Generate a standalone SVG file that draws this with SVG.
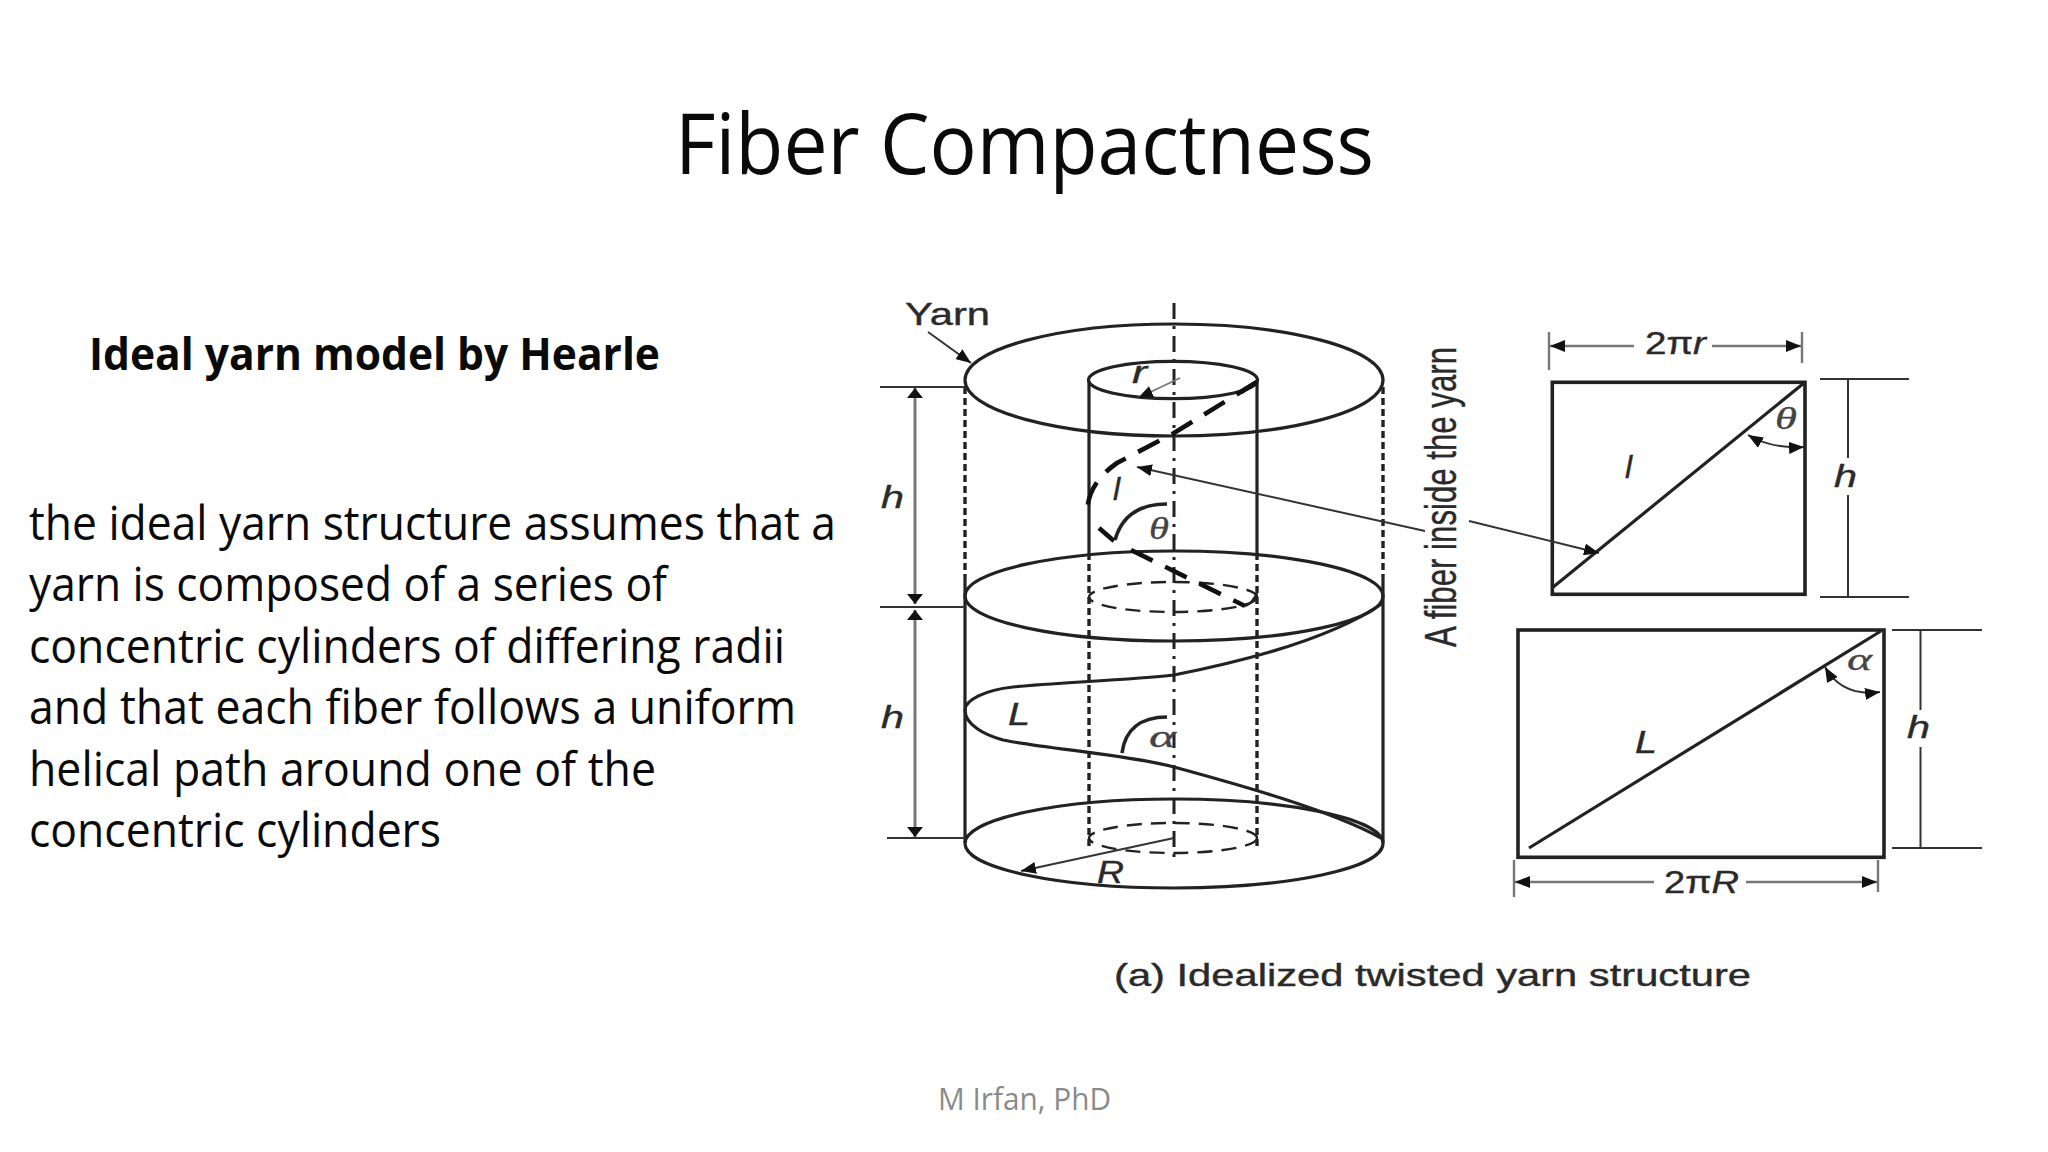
<svg xmlns="http://www.w3.org/2000/svg" width="2048" height="1152" viewBox="0 0 2048 1152">
<style>
.slide{font-family:"Open Sans",Lato,sans-serif;fill:#0a0a0a}
.lab{font-family:"Liberation Sans",Arial,sans-serif;fill:#2a2a2a;font-size:32px;stroke:#2a2a2a;stroke-width:.4}
.it{font-style:italic}
.gr{font-family:"Liberation Serif",serif;font-style:italic;fill:#444;font-size:32px;stroke:#444;stroke-width:.3}
.s{fill:none;stroke:#222;stroke-width:3.2}
.t{fill:none;stroke:#333;stroke-width:2}
.g{fill:none;stroke:#777;stroke-width:2.4}
.d{fill:none;stroke:#222;stroke-width:3.4;stroke-dasharray:7 4}
.de{fill:none;stroke:#222;stroke-width:2.4;stroke-dasharray:15 9}
.ax{fill:none;stroke:#222;stroke-width:3;stroke-dasharray:16 7 3 7}
.fb{fill:none;stroke:#111;stroke-width:4.6;stroke-dasharray:24 14}
</style>
<defs>
<marker id="a" markerUnits="userSpaceOnUse" markerWidth="16" markerHeight="12" refX="15" refY="6" orient="auto-start-reverse"><path d="M0 0L15 6L0 12z" fill="#111"/></marker>
<marker id="b" markerUnits="userSpaceOnUse" markerWidth="11" markerHeight="16" refX="10" refY="8" orient="auto-start-reverse"><path d="M0 0L10 8L0 16z" fill="#111"/></marker>
</defs>
<rect width="2048" height="1152" fill="#fff"/>
<g id="slide-text">
<text class="slide" x="675" y="174" font-size="84" textLength="699" lengthAdjust="spacingAndGlyphs">Fiber Compactness</text>
<text class="slide" x="89" y="370" font-size="45" font-weight="700" textLength="571" lengthAdjust="spacingAndGlyphs">Ideal yarn model by Hearle</text>
<text class="slide" x="29" y="540" font-size="47" textLength="807" lengthAdjust="spacingAndGlyphs">the ideal yarn structure assumes that a</text>
<text class="slide" x="29" y="601" font-size="47" textLength="638" lengthAdjust="spacingAndGlyphs">yarn is composed of a series of</text>
<text class="slide" x="29" y="663" font-size="47" textLength="756" lengthAdjust="spacingAndGlyphs">concentric cylinders of differing radii</text>
<text class="slide" x="29" y="724" font-size="47" textLength="767" lengthAdjust="spacingAndGlyphs">and that each fiber follows a uniform</text>
<text class="slide" x="29" y="786" font-size="47" textLength="627" lengthAdjust="spacingAndGlyphs">helical path around one of the</text>
<text class="slide" x="29" y="847" font-size="47" textLength="412" lengthAdjust="spacingAndGlyphs">concentric cylinders</text>
<text class="slide" x="938" y="1110" font-size="31" style="fill:#8a8a8a" textLength="173" lengthAdjust="spacingAndGlyphs">M Irfan, PhD</text>
</g>
<g id="cylinder">
<ellipse class="s" cx="1174" cy="380" rx="209" ry="56"/>
<ellipse class="s" cx="1173" cy="380" rx="84.5" ry="18.7"/>
<ellipse class="s" cx="1174" cy="596" rx="209" ry="45"/>
<ellipse class="s" cx="1174" cy="843.5" rx="209" ry="44.5"/>
<ellipse class="de" cx="1173" cy="597" rx="84" ry="15"/>
<ellipse class="de" cx="1173" cy="838" rx="84" ry="15"/>
<path class="s" d="M1089 381V553M1257 381V553M965 577V843M1383 577V843"/>
<path class="d" d="M965 387V577M1383 387V577M1089 553V848M1257 553V848"/>
<path class="ax" d="M1174 303V858"/>
<path class="s" d="M1383 603C1330 640 1240 662 1174 675C1130 680 1050 683 1013 687C985 690 965 700 965 710C965 725 985 735 1003 740C1040 748 1130 755 1174 767C1240 785 1330 810 1381 838"/>
<path class="fb" d="M1257 382L1174 433L1117 463C1100 475 1088 490 1087 512"/>
<path class="fb" style="stroke-dasharray:none" d="M1099 528L1114 541M1257 382L1241 392"/>
<path class="fb" d="M1131 550L1245 606"/>
<path class="s" style="stroke-width:2.4" d="M1245 606Q1252 604 1257 593"/>
<path class="s" style="stroke-width:3.6" d="M1167 504C1140 504 1122 515 1115 540"/>
<path class="s" style="stroke-width:3.6" d="M1167 717C1140 717 1125 730 1122 753"/>
</g>
<g id="square">
<rect class="s" style="stroke-width:3.6" x="1552.3" y="382.3" width="252.7" height="212"/>
<path class="s" d="M1552 588L1804 383"/>
</g>
<g id="rectangle">
<rect class="s" style="stroke-width:3.6" x="1518" y="630" width="366" height="227.3"/>
<path class="s" d="M1529 848L1881 631"/>
</g>
<g id="connectors">
<path class="t" marker-end="url(#a)" d="M928 332L971 363"/>
<path class="g" style="stroke-width:1.8" marker-end="url(#a)" d="M1180 378L1138 398"/>
<path class="t" marker-end="url(#a)" d="M1425 531L1137 467"/>
<path class="t" marker-end="url(#a)" d="M1469 521L1599 553"/>
<path class="t" marker-end="url(#a)" d="M1174 838L1021 871"/>
<path class="t" d="M880 387H965M880 607H965M887 838H965"/>
<path class="g" style="stroke-width:3" marker-start="url(#b)" marker-end="url(#b)" d="M915 388V604"/>
<path class="g" style="stroke-width:3" marker-start="url(#b)" marker-end="url(#b)" d="M915 610V837"/>
<path class="g" d="M1549 332V370M1802 332V363M1514 860V897M1878 860V892"/>
<path class="g" marker-start="url(#a)" d="M1550 346H1634"/>
<path class="g" marker-end="url(#a)" d="M1712 346H1801"/>
<path class="g" marker-start="url(#a)" d="M1515 882H1654"/>
<path class="g" marker-end="url(#a)" d="M1746 882H1877"/>
<path class="t" d="M1820 379H1909M1820 597H1909M1848 379V458M1848 495V597M1892 630H1982M1892 848H1982M1920.5 630V710M1920.5 747V848"/>
<path class="t" marker-start="url(#a)" marker-end="url(#a)" d="M1748 435Q1772 449 1804 447"/>
<path class="t" marker-start="url(#a)" marker-end="url(#a)" d="M1825 667Q1842 697 1880 692"/>
</g>
<g id="labels">
<text class="lab" x="905" y="325" textLength="85" lengthAdjust="spacingAndGlyphs">Yarn</text>
<text class="lab it" x="881" y="508" font-size="33" textLength="23" lengthAdjust="spacingAndGlyphs">h</text>
<text class="lab it" x="881" y="728" font-size="33" textLength="23" lengthAdjust="spacingAndGlyphs">h</text>
<text class="lab it" x="1132" y="383" textLength="15" lengthAdjust="spacingAndGlyphs">r</text>
<text class="lab it" x="1113" y="500">l</text>
<text class="gr" x="1149" y="539" textLength="20" lengthAdjust="spacingAndGlyphs">θ</text>
<text class="gr" x="1149" y="747" textLength="27" lengthAdjust="spacingAndGlyphs">α</text>
<text class="lab it" x="1008" y="725" textLength="22" lengthAdjust="spacingAndGlyphs">L</text>
<text class="lab it" x="1097" y="883" textLength="27" lengthAdjust="spacingAndGlyphs">R</text>
<text class="lab" transform="translate(1456 647) rotate(-90)" style="font-size:44px" textLength="300" lengthAdjust="spacingAndGlyphs">A fiber inside the yarn</text>
<text class="lab" x="1645" y="354" textLength="61" lengthAdjust="spacingAndGlyphs">2π<tspan class="it">r</tspan></text>
<text class="lab it" x="1834" y="487" textLength="23" lengthAdjust="spacingAndGlyphs">h</text>
<text class="lab it" x="1625" y="478">l</text>
<text class="gr" x="1775" y="429" textLength="22" lengthAdjust="spacingAndGlyphs">θ</text>
<text class="lab it" x="1635" y="753" textLength="22" lengthAdjust="spacingAndGlyphs">L</text>
<text class="lab it" x="1907" y="738" textLength="23" lengthAdjust="spacingAndGlyphs">h</text>
<text class="gr" x="1847" y="670" textLength="25" lengthAdjust="spacingAndGlyphs">α</text>
<text class="lab" x="1664" y="893" textLength="75" lengthAdjust="spacingAndGlyphs">2π<tspan class="it">R</tspan></text>
<text class="lab" x="1114" y="986" textLength="637" lengthAdjust="spacingAndGlyphs">(a) Idealized twisted yarn structure</text>
</g>
</svg>
